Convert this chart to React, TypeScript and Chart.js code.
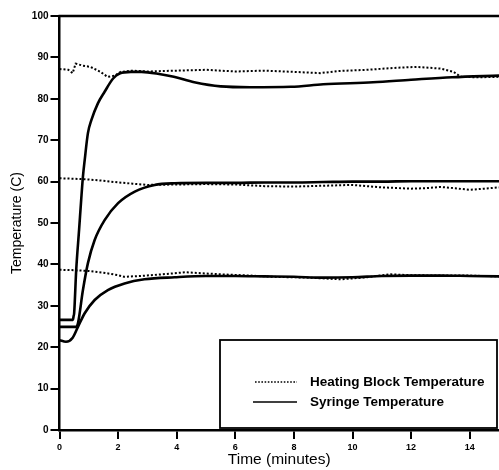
import { useEffect, useRef } from "react";
import { Chart, registerables } from "chart.js";
Chart.register(...registerables);

// ---- Data (time in minutes, temperature in °C) ----
const xTickValues = [0, 2, 4, 6, 8, 10, 12, 14];
const yTickValues = [0, 10, 20, 30, 40, 50, 60, 70, 80, 90, 100];

const heatTime1 = [0, 0.3, 0.45, 0.55, 0.8, 1.06, 1.4, 1.64, 1.9, 2.08, 2.5, 3, 4, 5, 6, 7, 8, 8.9, 9.5, 10.5, 11.5, 12.2, 13, 13.45, 13.7, 14.3, 15];
const heatBlock1 = [87.2, 87, 86.2, 88.5, 88, 87.7, 86.5, 85.3, 85.6, 86.5, 86.8, 86.6, 86.8, 87, 86.6, 86.8, 86.5, 86.2, 86.7, 87, 87.5, 87.7, 87.3, 86.5, 85.3, 85.2, 85.3];

const heatTime2 = [0, 0.5, 1, 1.5, 2, 2.5, 3, 4, 5, 6, 7, 8, 9, 10, 11, 12, 12.5, 13, 13.5, 14, 14.5, 15];
const heatBlock2 = [60.8, 60.7, 60.5, 60.2, 59.8, 59.5, 59.2, 59.3, 59.4, 59.3, 58.9, 58.8, 59.0, 59.2, 58.6, 58.3, 58.4, 58.7, 58.4, 58.0, 58.3, 58.6];

const heatTime3 = [0, 0.5, 1, 1.5, 2, 2.2, 2.75, 3.5, 4.3, 5.5, 6.5, 7.3, 8.5, 9.6, 10.5, 11.3, 12, 13, 14, 15];
const heatBlock3 = [38.7, 38.6, 38.4, 38.0, 37.4, 37.0, 37.2, 37.6, 38.1, 37.6, 37.3, 37.0, 36.8, 36.4, 36.9, 37.6, 37.4, 37.3, 37.3, 37.1];

const syrTime1 = [0, 0.46, 0.48, 0.5, 0.57, 0.67, 0.74, 0.8, 0.86, 0.97, 1.09, 1.31, 1.54, 1.83, 2.05, 2.44, 2.8, 3.4, 3.9, 4.6, 5.5, 6.5, 7.9, 9, 10.7, 12, 13.4, 15];
const syringe1 = [26.6, 26.6, 27.5, 28.2, 38.6, 48.5, 55.6, 61.2, 65.2, 71.7, 74.9, 78.9, 81.7, 84.9, 86.1, 86.5, 86.5, 86, 85.3, 84, 83, 82.8, 82.9, 83.5, 84, 84.6, 85.2, 85.6];

const syrTime2 = [0, 0.56, 0.63, 0.8, 0.97, 1.2, 1.54, 2.0, 2.57, 3.25, 3.93, 5, 6, 7, 8, 9, 10, 11, 12, 13, 14, 15];
const syringe2 = [24.9, 24.9, 25.8, 33.8, 40.3, 45.9, 50.7, 54.8, 57.6, 59.2, 59.6, 59.7, 59.7, 59.8, 59.8, 59.9, 60, 60, 60.1, 60.1, 60.1, 60.1];

const syrTime3 = [0, 0.22, 0.45, 0.63, 0.86, 1.2, 1.65, 2.22, 2.9, 3.93, 5, 6, 7, 8, 9, 10, 11, 12, 13, 14, 15];
const syringe3 = [21.7, 21.3, 22.3, 24.9, 28.2, 31.4, 33.8, 35.4, 36.4, 36.9, 37.2, 37.2, 37.1, 37.0, 36.8, 36.9, 37.2, 37.3, 37.3, 37.2, 37.1];

const legendLabels = ["Heating Block Temperature", "Syringe Temperature"];
const xTitle = "Time (minutes)";
const yTitle = "Temperature (C)";

const FONT = "'Liberation Sans', Arial, Helvetica, sans-serif";

const toPoints = (xs: number[], ys: number[]) => xs.map((x, i) => ({ x, y: ys[i] }));

const frameLegendPlugin = {
  id: "frameLegend",
  afterDraw(chart: any) {
    const { ctx, chartArea } = chart;
    ctx.save();
    // top frame line
    ctx.strokeStyle = "#000";
    ctx.lineWidth = 2.5;
    ctx.beginPath();
    ctx.moveTo(chartArea.left - 1, chartArea.top);
    ctx.lineTo(chartArea.right, chartArea.top);
    ctx.stroke();

    // legend box
    const bx = 220, by = 340, bw = 277, bh = 88;
    ctx.fillStyle = "#fff";
    ctx.fillRect(bx, by, bw, bh);
    ctx.lineWidth = 1.8;
    ctx.strokeRect(bx, by, bw, bh);

    // dotted sample
    ctx.lineWidth = 1.6;
    ctx.setLineDash([1.6, 1.6]);
    ctx.beginPath();
    ctx.moveTo(255, 382);
    ctx.lineTo(297, 382);
    ctx.stroke();
    // solid sample
    ctx.setLineDash([]);
    ctx.lineWidth = 1.6;
    ctx.beginPath();
    ctx.moveTo(253, 402);
    ctx.lineTo(297, 402);
    ctx.stroke();

    ctx.fillStyle = "#000";
    ctx.font = `bold 13.5px ${FONT}`;
    ctx.textBaseline = "middle";
    ctx.textAlign = "left";
    ctx.fillText(legendLabels[0], 310, 382);
    ctx.fillText(legendLabels[1], 310, 402);
    ctx.restore();
  },
};

export default function App() {
  const canvasRef = useRef<HTMLCanvasElement | null>(null);

  useEffect(() => {
    if (!canvasRef.current) return;
    const dotted = { borderColor: "#000", borderWidth: 2, borderDash: [2, 2], pointRadius: 0, tension: 0, fill: false };
    const solid = { borderColor: "#000", borderWidth: 2.6, pointRadius: 0, cubicInterpolationMode: "monotone" as const, fill: false };
    const chart = new Chart(canvasRef.current, {
      type: "line",
      data: {
        datasets: [
          { label: legendLabels[0], data: toPoints(heatTime1, heatBlock1), ...dotted },
          { label: legendLabels[0], data: toPoints(heatTime2, heatBlock2), ...dotted },
          { label: legendLabels[0], data: toPoints(heatTime3, heatBlock3), ...dotted },
          { label: legendLabels[1], data: toPoints(syrTime1, syringe1), ...solid },
          { label: legendLabels[1], data: toPoints(syrTime2, syringe2), ...solid },
          { label: legendLabels[1], data: toPoints(syrTime3, syringe3), ...solid },
        ] as any,
      },
      options: {
        responsive: false,
        animation: false,
        devicePixelRatio: 1,
        layout: { padding: { top: 16, right: 0, left: 0, bottom: 0 } },
        plugins: { legend: { display: false }, tooltip: { enabled: false } },
        scales: {
          x: {
            type: "linear",
            min: 0,
            max: 15,
            afterFit: (s: any) => { s.height = 40; },
            afterBuildTicks: (s: any) => { s.ticks = xTickValues.map((v) => ({ value: v })); },
            ticks: { color: "#000", font: { family: FONT, size: 9, weight: "bold" }, padding: 3, maxRotation: 0 },
            grid: { display: true, drawOnChartArea: false, drawTicks: true, tickLength: 9, color: "#000", lineWidth: 2 },
            border: { display: true, color: "#000", width: 2.5 },
            title: { display: true, text: xTitle, color: "#000", font: { family: FONT, size: 15.5 }, padding: { top: 0, bottom: 1 } },
          },
          y: {
            type: "linear",
            min: 0,
            max: 100,
            afterFit: (s: any) => { s.width = 59.5; },
            afterBuildTicks: (s: any) => { s.ticks = yTickValues.map((v) => ({ value: v })); },
            ticks: { color: "#000", font: { family: FONT, size: 10, weight: "bold" }, padding: 2 },
            grid: { display: true, drawOnChartArea: false, drawTicks: true, tickLength: 9, color: "#000", lineWidth: 2 },
            border: { display: true, color: "#000", width: 2.5 },
            title: { display: true, text: yTitle, color: "#000", font: { family: FONT, size: 14 }, padding: { top: 8.6, bottom: 0 } },
          },
        },
      } as any,
      plugins: [frameLegendPlugin],
    });
    return () => chart.destroy();
  }, []);

  return (
    <div style={{ position: "fixed", left: 0, top: 0, width: 499, height: 470, background: "#fff" }}>
      <canvas ref={canvasRef} width={499} height={470} style={{ display: "block" }} />
    </div>
  );
}
